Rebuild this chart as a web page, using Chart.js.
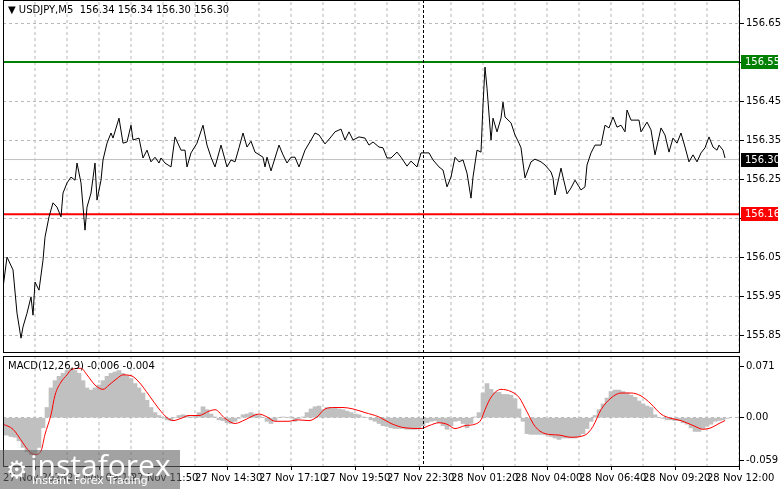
<!DOCTYPE html>
<html><head><meta charset="utf-8">
<script src="https://cdn.jsdelivr.net/npm/chart.js@4.4.0/dist/chart.umd.min.js"></script>
<style>
html,body{margin:0;padding:0;background:#fff;width:781px;height:489px;overflow:hidden;font-family:"DejaVu Sans",sans-serif}
#c1{position:absolute;left:0;top:0}
#c2{position:absolute;left:0;top:355px}
.t{position:absolute;font-size:10px;color:#000;white-space:pre}
#wm{position:absolute;left:0;top:450px;width:180px;height:39px;background:rgba(100,100,100,0.6);color:#fff}
</style></head><body>
<canvas id="c1" width="781" height="355"></canvas>
<canvas id="c2" width="781" height="134"></canvas>
<div class="t" style="left:8px;top:4px">▼ USDJPY,M5  156.34 156.34 156.30 156.30</div>
<div class="t" style="left:8px;top:360px">MACD(12,26,9) -0.006 -0.004</div>
<div id="wm"><div style="position:absolute;left:30px;top:-6px;font-size:30px;font-family:'Open Sans',sans-serif;">instaforex</div><div style="position:absolute;left:32px;top:24px;font-size:11px;">Instant Forex Trading</div><div style="position:absolute;left:6px;top:6px;font-size:24px;">⚙</div></div>
<script>
const timeLabels = ["27 Nov 2024","27 Nov 09:10","27 Nov 11:50","27 Nov 14:30","27 Nov 17:10","27 Nov 19:50","27 Nov 22:30","28 Nov 01:20","28 Nov 04:00","28 Nov 06:40","28 Nov 09:20","28 Nov 12:00"];
const priceBars = [0,2,5,7,9,10,12,14,15,16,18,20,21,23,25,27,29,30,32,34,36,37,39,41,42,44,46,47,49,50,52,54,55,58,60,62,64,65,68,70,72,74,76,78,79,81,84,86,89,91,92,94,97,100,102,104,106,109,112,114,116,
118,120,122,124,126,130,131,132,134,138,140,142,144,146,148,151,154,156,158,161,164,166,169,171,173,175,178,181,183,185,188,190,192,194,197,199,202,204,207,209,213,215,218,220,222,224,226,228,230,232,234,235,237,239,
240,241,242,244,245,247,249,250,251,254,256,258,259,261,264,266,269,271,274,275,276,279,280,282,284,286,289,291,292,294,296,299,301,303,305,307,309,311,312,314,318,319,322,324,326,329,331,333,335,337,339,341,343,345,347,349,351,353,355,357,358,360,361];
const priceVals = [155.971,156.050,156.017,155.906,155.842,155.871,155.906,155.948,155.901,155.986,155.965,156.042,156.101,156.153,156.189,156.178,156.153,156.214,156.240,156.255,156.247,156.291,156.240,156.119,156.178,156.214,156.291,156.196,156.247,156.299,156.342,156.368,156.355,156.406,156.342,156.345,156.388,156.350,156.355,156.304,156.324,156.294,156.306,156.291,156.304,156.291,156.281,156.358,156.324,156.324,156.281,156.317,156.342,156.388,156.337,156.306,156.281,156.337,156.281,156.299,156.294,
156.330,156.368,156.332,156.347,156.319,156.306,156.281,156.306,156.271,156.337,156.312,156.291,156.306,156.306,156.281,156.324,156.350,156.368,156.363,156.340,156.358,156.371,156.378,156.350,156.371,156.350,156.358,156.355,156.337,156.345,156.332,156.330,156.304,156.304,156.319,156.306,156.283,156.296,156.281,156.317,156.317,156.299,156.281,156.273,156.230,156.255,156.306,156.294,156.299,156.265,156.201,156.255,156.324,156.319,
156.440,156.537,156.483,156.350,156.406,156.371,156.406,156.447,156.409,156.394,156.363,156.342,156.330,156.253,156.294,156.301,156.294,156.286,156.268,156.253,156.209,156.278,156.255,156.212,156.227,156.247,156.222,156.230,156.286,156.317,156.337,156.337,156.388,156.381,156.409,156.383,156.388,156.371,156.427,156.401,156.401,156.371,156.396,156.376,156.312,156.381,156.363,156.319,156.355,156.342,156.368,156.332,156.294,156.312,156.294,156.317,156.330,156.358,156.332,156.324,156.337,156.324,156.304];
const histVals = [-0.024,-0.024,-0.026,-0.027,-0.032,-0.041,-0.047,-0.051,-0.051,-0.041,-0.014,0.014,0.041,0.051,0.057,0.061,0.065,0.068,0.065,0.061,0.051,0.041,0.038,0.041,0.045,0.051,0.057,0.061,0.063,0.065,0.061,0.058,0.054,0.047,0.041,0.034,0.024,0.014,0.007,0.003,0,-0.003,-0.004,0,0.003,0.004,0.003,0.001,0.003,0.007,0.015,0.011,0.005,0.001,-0.003,-0.004,-0.007,-0.008,-0.005,-0.001,0.004,0.005,0.007,0.005,0.003,0,-0.005,-0.008,-0.004,0,0.001,0,0.001,-0.005,-0.001,0.001,0.007,0.012,0.015,0.016,0.011,0.014,0.014,0.014,0.012,0.011,0.009,0.007,0.005,0.004,0.001,0,-0.003,-0.005,-0.008,-0.011,-0.012,-0.014,-0.015,-0.015,-0.015,-0.016,-0.016,-0.016,-0.015,-0.011,-0.007,-0.005,-0.004,-0.007,-0.011,-0.016,-0.011,-0.005,-0.004,-0.008,-0.014,-0.008,0.001,0.007,0.034,0.047,0.039,0.035,0.035,0.032,0.032,0.031,0.026,0.012,-0.005,-0.022,-0.023,-0.023,-0.023,-0.023,-0.024,-0.026,-0.028,-0.030,-0.028,-0.028,-0.028,-0.028,-0.026,-0.022,-0.015,-0.005,0.003,0.011,0.019,0.027,0.036,0.038,0.038,0.036,0.034,0.031,0.028,0.023,0.019,0.016,0.014,0.004,0,-0.001,-0.003,-0.003,-0.004,-0.004,-0.007,-0.009,-0.014,-0.019,-0.019,-0.015,-0.012,-0.009,-0.005,-0.004,-0.003,-0.001];
const sigBars = [0,5,10,13,16,19,21,24,26,29,32,34,39,42,46,50,53,57,60,64,68,73,78,82,85,89,93,98,103,106,111,116,121,128,132,136,143,147,153,157,161,166,170,175,181,188,194,201,209,213,218,222,226,231,236,239,241,244,249,254,258,262,266,271,278,284,291,295,299,304,309,314,319,324,329,334,339,346,350,354,358,361];
const sigVals = [-0.009,-0.016,-0.035,-0.046,-0.051,-0.046,-0.023,0.004,0.031,0.049,0.059,0.066,0.068,0.059,0.045,0.039,0.045,0.054,0.059,0.058,0.049,0.031,0.012,0,-0.004,-0.001,0.003,0.003,0.009,0.011,-0.001,-0.008,-0.003,0.005,0.001,-0.005,-0.005,-0.003,-0.004,0.001,0.012,0.014,0.014,0.012,0.007,0.001,-0.008,-0.014,-0.015,-0.011,-0.007,-0.009,-0.015,-0.011,-0.009,-0.003,0.011,0.028,0.039,0.036,0.028,0.008,-0.012,-0.022,-0.024,-0.027,-0.024,-0.012,0.011,0.027,0.034,0.034,0.030,0.019,0.005,-0.001,-0.004,-0.012,-0.016,-0.014,-0.008,-0.004];
const priceTicks = [155.85,155.95,156.05,156.15,156.25,156.35,156.45,156.55,156.65];
const macdTicks = [-0.059,0,0.071];
const resistance = 156.55, support = 156.16, lastPrice = 156.30, midnightBar = 210;

const XMAX = 368.5, F = '10px "DejaVu Sans"';
const GRID = '#b8b8b8';
const PMIN = 155.804, PMAX = 156.709, MMIN = -0.068, MMAX = 0.085;
const gridBars = []; for (let b = 16; b <= XMAX; b += 16) gridBars.push(b);
const vLines = (lo, hi) => gridBars.map(b => ({type:'line', data:[{x:b,y:lo},{x:b,y:hi}], borderColor:GRID, borderWidth:1, borderDash:[3,3], pointRadius:0, order:9}));

function vdash(c, x, y0, y1, color, on, off){
  c.fillStyle = color;
  for (let y = Math.round(y0); y < y1; y += on + off) c.fillRect(x, y, 1, Math.min(on, y1 - y));
}
function frame(chart){
  const a = chart.chartArea, c = chart.ctx;
  c.save(); c.strokeStyle = '#000'; c.lineWidth = 1;
  c.strokeRect(Math.round(a.left)+0.5, Math.round(a.top)+0.5, Math.round(a.right-a.left)-1, Math.round(a.bottom-a.top)-1);
  vdash(c, Math.round(chart.scales.x.getPixelForValue(midnightBar)), a.top, a.bottom, '#000', 3, 2);
  c.restore();
}
function box(c, y, bg, fg, txt){
  c.fillStyle = bg; c.fillRect(741, Math.round(y)-7, 37, 14);
  c.fillStyle = fg; c.font = F; c.textBaseline = 'middle'; c.textAlign = 'left';
  c.fillText(txt, 745, Math.round(y));
}
const noPad = s => { s.paddingTop = 0; s.paddingBottom = 0; };

new Chart(document.getElementById('c1'), {
  data:{datasets:[
    {type:'line', data: priceBars.map((b,i)=>({x:b,y:priceVals[i]})), borderColor:'#000', borderWidth:1, pointRadius:0, tension:0, order:1},
    {type:'line', data:[{x:0,y:lastPrice},{x:XMAX,y:lastPrice}], borderColor:'#c0c0c0', borderWidth:1, pointRadius:0, order:3},
    {type:'line', data:[{x:0,y:resistance},{x:XMAX,y:resistance}], borderColor:'#008000', borderWidth:2, pointRadius:0, order:2},
    {type:'line', data:[{x:0,y:support},{x:XMAX,y:support}], borderColor:'#ff0000', borderWidth:2, pointRadius:0, order:2},
    ...vLines(PMIN, PMAX)
  ]},
  options:{responsive:false, animation:false, events:[],
    layout:{padding:{left:3, top:0, right:0, bottom:2}},
    plugins:{legend:{display:false}, tooltip:{enabled:false}},
    scales:{
      x:{type:'linear', min:0, max:XMAX,
        afterFit: s => { s.height = 0; s.paddingLeft = 0; s.paddingRight = 0; },
        grid:{display:false}, border:{display:false}, ticks:{display:false}},
      y:{position:'right', min:PMIN, max:PMAX,
        afterBuildTicks: s => { s.ticks = priceTicks.map(v=>({value:v})); },
        afterFit: s => { s.width = 41; noPad(s); },
        grid:{color:GRID, drawTicks:true, tickLength:4, tickColor:'#000', tickBorderDash:[]},
        border:{display:false, dash:[3,3]},
        ticks:{font:{family:'DejaVu Sans', size:10}, color:'#000', padding:2,
          callback: v => (v===156.55||v===156.15) ? '' : v.toFixed(2)}}
    }},
  plugins:[{id:'f1', afterDraw(chart){
    frame(chart);
    const c = chart.ctx, y = chart.scales.y;
    box(c, y.getPixelForValue(resistance), '#008000', '#fff', resistance.toFixed(2));
    box(c, y.getPixelForValue(support), '#ff0000', '#fff', support.toFixed(2));
    box(c, y.getPixelForValue(lastPrice), '#000', '#fff', lastPrice.toFixed(2));
  }}]
});

new Chart(document.getElementById('c2'), {
  data:{datasets:[
    {type:'line', data: sigBars.map((b,i)=>({x:b,y:sigVals[i]})), borderColor:'#ff0000', borderWidth:1, pointRadius:0, cubicInterpolationMode:'monotone', order:1},
    {type:'bar', data: histVals.map((v,i)=>({x:i*2,y:v})), backgroundColor:'#c0c0c0', barThickness:4, borderWidth:0, order:2},
    ...vLines(MMIN, MMAX)
  ]},
  options:{responsive:false, animation:false, events:[],
    layout:{padding:{left:3, top:1, right:0, bottom:0}},
    plugins:{legend:{display:false}, tooltip:{enabled:false}},
    scales:{
      x:{type:'linear', min:0, max:XMAX, offset:false,
        afterBuildTicks: s => { const t=[]; for (let b=0;b<=XMAX;b+=32) t.push({value:b}); s.ticks = t; },
        afterFit: s => { s.height = 22; s.paddingLeft = 0; s.paddingRight = 0; },
        grid:{color:'#000', drawOnChartArea:false, drawTicks:true, tickLength:3},
        border:{display:false},
        ticks:{autoSkip:false, maxRotation:0, align:'start', padding:2, font:{family:'DejaVu Sans', size:10}, color:'#000',
          callback: v => timeLabels[Math.round(v/32)]}},
      y:{position:'right', min:MMIN, max:MMAX,
        afterBuildTicks: s => { s.ticks = macdTicks.map(v=>({value:v})); },
        afterFit: s => { s.width = 41; noPad(s); },
        grid:{color: ctx => ctx.tick && ctx.tick.value === 0 ? GRID : 'transparent', drawTicks:true, tickLength:4, tickColor:'#000', tickBorderDash:[]},
        border:{display:false, dash:[3,3]},
        ticks:{font:{family:'DejaVu Sans', size:10}, color:'#000', padding:2,
          callback: v => v===0 ? '0.00' : v.toFixed(3)}}
    }},
  plugins:[{id:'f2', afterDraw: frame}]
});
</script>
</body></html>
